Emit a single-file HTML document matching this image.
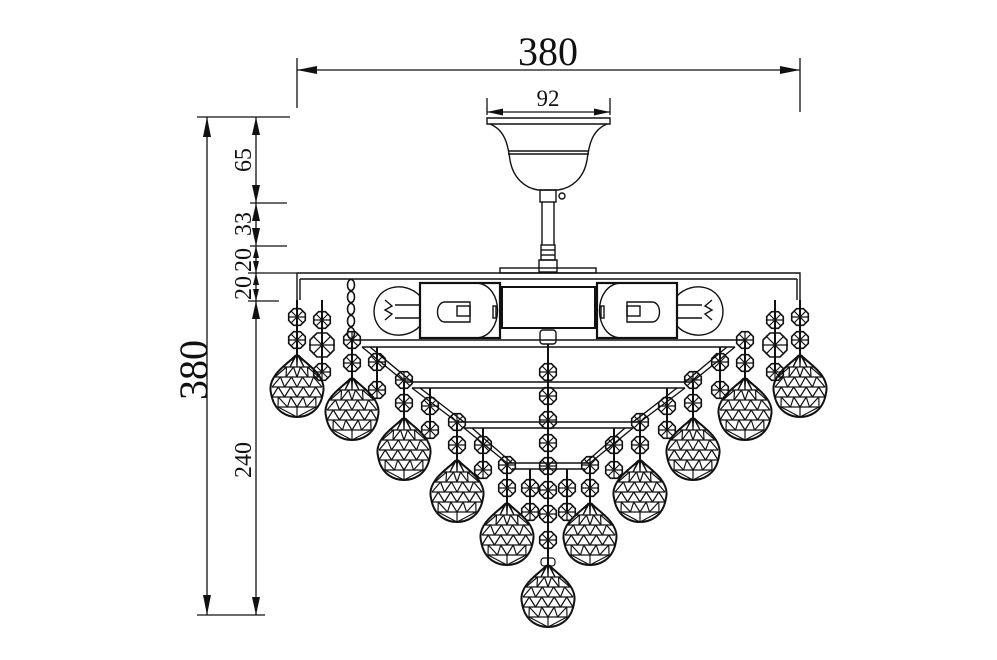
<!DOCTYPE html>
<html><head><meta charset="utf-8"><style>
html,body{margin:0;padding:0;background:#fff;}
svg{display:block;}
text{font-family:"Liberation Serif",serif;fill:#111;}
</style></head><body>
<svg id="s" width="997" height="660" viewBox="0 0 997 660" xmlns="http://www.w3.org/2000/svg">
<g stroke="#111" fill="none" stroke-width="1.3">
<line x1="297" y1="58" x2="297" y2="108"/><line x1="800" y1="58" x2="800" y2="112"/>
<line x1="297" y1="70" x2="800" y2="70"/>
<line x1="487" y1="98" x2="487" y2="115"/><line x1="610" y1="98" x2="610" y2="115"/>
<line x1="487" y1="112" x2="610" y2="112"/>
<line x1="197" y1="117" x2="290" y2="117"/>
<line x1="207" y1="117" x2="207" y2="615"/>
<line x1="256" y1="117" x2="256" y2="615"/>
<line x1="250" y1="203" x2="287" y2="203"/>
<line x1="250" y1="246" x2="287" y2="246"/>
<line x1="248" y1="273" x2="297" y2="273"/>
<line x1="248" y1="301" x2="279" y2="301"/>
<line x1="197" y1="615" x2="265" y2="615"/>
</g>
<g fill="#111">
<polygon points="297,70 317,66 317,74"/><polygon points="800,70 780,66 780,74"/>
<polygon points="487,112 503,108.5 503,115.5"/><polygon points="610,112 594,108.5 594,115.5"/>
<polygon points="207,117 203,137 211,137"/><polygon points="207,615 203,595 211,595"/>
<polygon points="256,117 252,135 260,135"/><polygon points="256,203 252,185 260,185"/>
<polygon points="256,203 252,221 260,221"/><polygon points="256,246 252,228 260,228"/>
<polygon points="256,246 253,258 259,258"/><polygon points="256,273 253,261 259,261"/>
<polygon points="256,273 253,285 259,285"/><polygon points="256,301 253,289 259,289"/>
<polygon points="256,301 252,319 260,319"/><polygon points="256,615 252,597 260,597"/>
</g>
<text x="548" y="65" font-size="40" text-anchor="middle">380</text>
<text x="548" y="106" font-size="23" text-anchor="middle">92</text>
<text transform="translate(207,370) rotate(-90)" font-size="40" text-anchor="middle">380</text>
<text transform="translate(251,160) rotate(-90)" font-size="24" text-anchor="middle">65</text>
<text transform="translate(251,224) rotate(-90)" font-size="24" text-anchor="middle">33</text>
<text transform="translate(251,260) rotate(-90)" font-size="24" text-anchor="middle">20</text>
<text transform="translate(251,288) rotate(-90)" font-size="24" text-anchor="middle">20</text>
<text transform="translate(251,460) rotate(-90)" font-size="24" text-anchor="middle">240</text>
<g stroke="#111" fill="none" stroke-width="1.4">
<path d="M487,118 L610,118 L610,124 L487,124 Z"/>
<path d="M490,124 C505,130 508,145 510,160 C513,178 525,188 538,190 L558,190 C572,188 584,178 587,160 C589,145 592,130 607,124"/>
<line x1="508" y1="151" x2="589" y2="151"/><line x1="508" y1="154" x2="589" y2="154"/>
<rect x="540" y="190" width="16" height="12"/>
<circle cx="562" cy="196" r="3"/>
<line x1="542" y1="202" x2="542" y2="245"/><line x1="554" y1="202" x2="554" y2="245"/>
<rect x="541" y="245" width="14" height="15"/>
<line x1="541" y1="250" x2="555" y2="250"/><line x1="541" y1="255" x2="555" y2="255"/>
<rect x="539" y="260" width="18" height="12"/>
<path d="M297,273 L800,273 L800,300 M297,273 L297,300"/>
<line x1="300" y1="279" x2="797" y2="279"/>
<line x1="300" y1="279" x2="300" y2="300"/><line x1="797" y1="279" x2="797" y2="300"/>
<rect x="500" y="268" width="96" height="5"/>
<rect x="502" y="287" width="93" height="41" stroke-width="2"/>
<rect x="420" y="283" width="80" height="55" stroke-width="2.2"/>
<rect x="597" y="283" width="80" height="55" stroke-width="2.2"/>
<path d="M475,283 C505,283 505,338 475,338"/>
<path d="M622,283 C592,283 592,338 622,338"/>
<path d="M445,302 L470,302 L470,322 L445,322 C435,322 435,302 445,302 Z"/>
<path d="M652,302 L627,302 L627,322 L652,322 C662,322 662,302 652,302 Z"/>
<rect x="457" y="306" width="13" height="10"/><rect x="627" y="306" width="13" height="10"/>
<rect x="493" y="306" width="3" height="12"/><rect x="601" y="306" width="3" height="12"/>
<path d="M420,296 C405,280 375,285 374,311 C374,337 405,342 420,326"/>
<path d="M677,296 C692,280 722,285 723,311 C723,337 692,342 677,326"/>
<path d="M420,305 L395,305 M420,318 L395,318 M385,300 L392,306 L385,310 L392,314 L385,320" />
<path d="M677,305 L702,305 M677,318 L702,318 M712,300 L705,306 L712,310 L705,314 L712,320"/>
<line x1="352" y1="340" x2="745" y2="340"/><line x1="362" y1="347" x2="735" y2="347"/>
<line x1="405" y1="382" x2="692" y2="382"/><line x1="412" y1="388" x2="685" y2="388"/>
<line x1="457" y1="422" x2="640" y2="422"/><line x1="464" y1="428" x2="633" y2="428"/>
<line x1="507" y1="463" x2="590" y2="463"/><line x1="512" y1="469" x2="585" y2="469"/>
<line x1="362" y1="347" x2="405" y2="382"/><line x1="370" y1="347" x2="412" y2="382"/>
<line x1="735" y1="347" x2="692" y2="382"/><line x1="727" y1="347" x2="685" y2="382"/>
<line x1="412" y1="388" x2="457" y2="422"/><line x1="420" y1="388" x2="464" y2="422"/>
<line x1="685" y1="388" x2="640" y2="422"/><line x1="677" y1="388" x2="633" y2="422"/>
<line x1="464" y1="428" x2="507" y2="463"/><line x1="472" y1="428" x2="512" y2="463"/>
<line x1="633" y1="428" x2="590" y2="463"/><line x1="625" y1="428" x2="585" y2="463"/>
<rect x="540" y="330" width="16" height="14" rx="3"/>
</g>
<g id="cr" stroke="#111" fill="none" stroke-width="1.2"></g>
</svg>
<script>
var NS="http://www.w3.org/2000/svg",g=document.getElementById('cr');
function el(t,a){var e=document.createElementNS(NS,t);for(var k in a)e.setAttribute(k,a[k]);g.appendChild(e);return e;}
function oct(x,y,r){var p=[];for(var i=0;i<8;i++){var a=Math.PI/8+i*Math.PI/4;p.push((x+r*Math.cos(a)).toFixed(1)+','+(y+r*Math.sin(a)).toFixed(1));}
el('polygon',{points:p.join(' '),'stroke-width':1.6});
for(var i=0;i<4;i++){var a=i*Math.PI/4;el('line',{x1:x+r*Math.cos(a),y1:y+r*Math.sin(a),x2:x-r*Math.cos(a),y2:y-r*Math.sin(a)});}}
function drop(x,t){var h=62,w=26;var b=t+h;
var d='M'+x+','+t+' C'+(x+12)+','+(t+10)+' '+(x+30)+','+(t+22)+' '+(x+w)+','+(t+38)+' C'+(x+23)+','+(b-4)+' '+(x+8)+','+b+' '+x+','+b+' C'+(x-8)+','+b+' '+(x-23)+','+(b-4)+' '+(x-w)+','+(t+38)+' C'+(x-30)+','+(t+22)+' '+(x-12)+','+(t+10)+' '+x+','+t+'Z';
el('path',{d:d,'stroke-width':2});
var rows=[12,22,32,42,52];
for(var i=0;i<rows.length;i++){var y=t+rows[i];var ww=(i==0?14:i==1?22:i==4?19:25);
el('line',{x1:x-ww,y1:y,x2:x+ww,y2:y});
var prev=i==0?t:t+rows[i-1];var pw=i==0?2:(i==1?14:i==2?22:25);
var n=5;for(var j=0;j<n;j++){var xa=x-ww+2*ww*j/(n-1);var xb=x-pw+2*pw*(j+0.5)/(n-1);if(xb<=x+pw)el('line',{x1:xa,y1:y,x2:Math.min(xb,x+pw),y2:prev});var xc=x-pw+2*pw*(j-0.5)/(n-1);if(xc>=x-pw)el('line',{x1:xa,y1:y,x2:xc,y2:prev});}}
var lb=t+rows[4];el('line',{x1:x-19,y1:lb,x2:x,y2:b});el('line',{x1:x+19,y1:lb,x2:x,y2:b});el('line',{x1:x,y1:lb,x2:x,y2:b});}
function hang(x,y1,y2){el('line',{x1:x,y1:y1,x2:x,y2:y2,'stroke-width':2});}
var D=[[297,355,300],[352,378,340],[404,418,382],[457,460,422],[507,503,463]];
D.forEach(function(d){[d[0],1097-d[0]].forEach(function(x){hang(x,d[2],d[1]);oct(x,d[1]-15,9);oct(x,d[1]-38,9);drop(x,d[1]);});});
var S=[[322,[320,345,372],300],[377,[362,390],347],[430,[406,430],388],[483,[445,470],428],[530,[488,512],469]];
S.forEach(function(s){[s[0],1097-s[0]].forEach(function(x){hang(x,s[2],s[1][s[1].length-1]);s[1].forEach(function(y,i){oct(x,y,(s[0]==322&&i==1)?13:9);});});});
hang(548,344,565);
[372,396,420,443,466,490,514,540].forEach(function(y){oct(548,y,9);});
el('rect',{x:541,y:558,width:14,height:8,rx:3});
drop(548,565);
for(var y=285;y<345;y+=12)el('ellipse',{cx:351,cy:y,rx:3.5,ry:5.5,'stroke-width':1.6});
</script>
</body></html>
